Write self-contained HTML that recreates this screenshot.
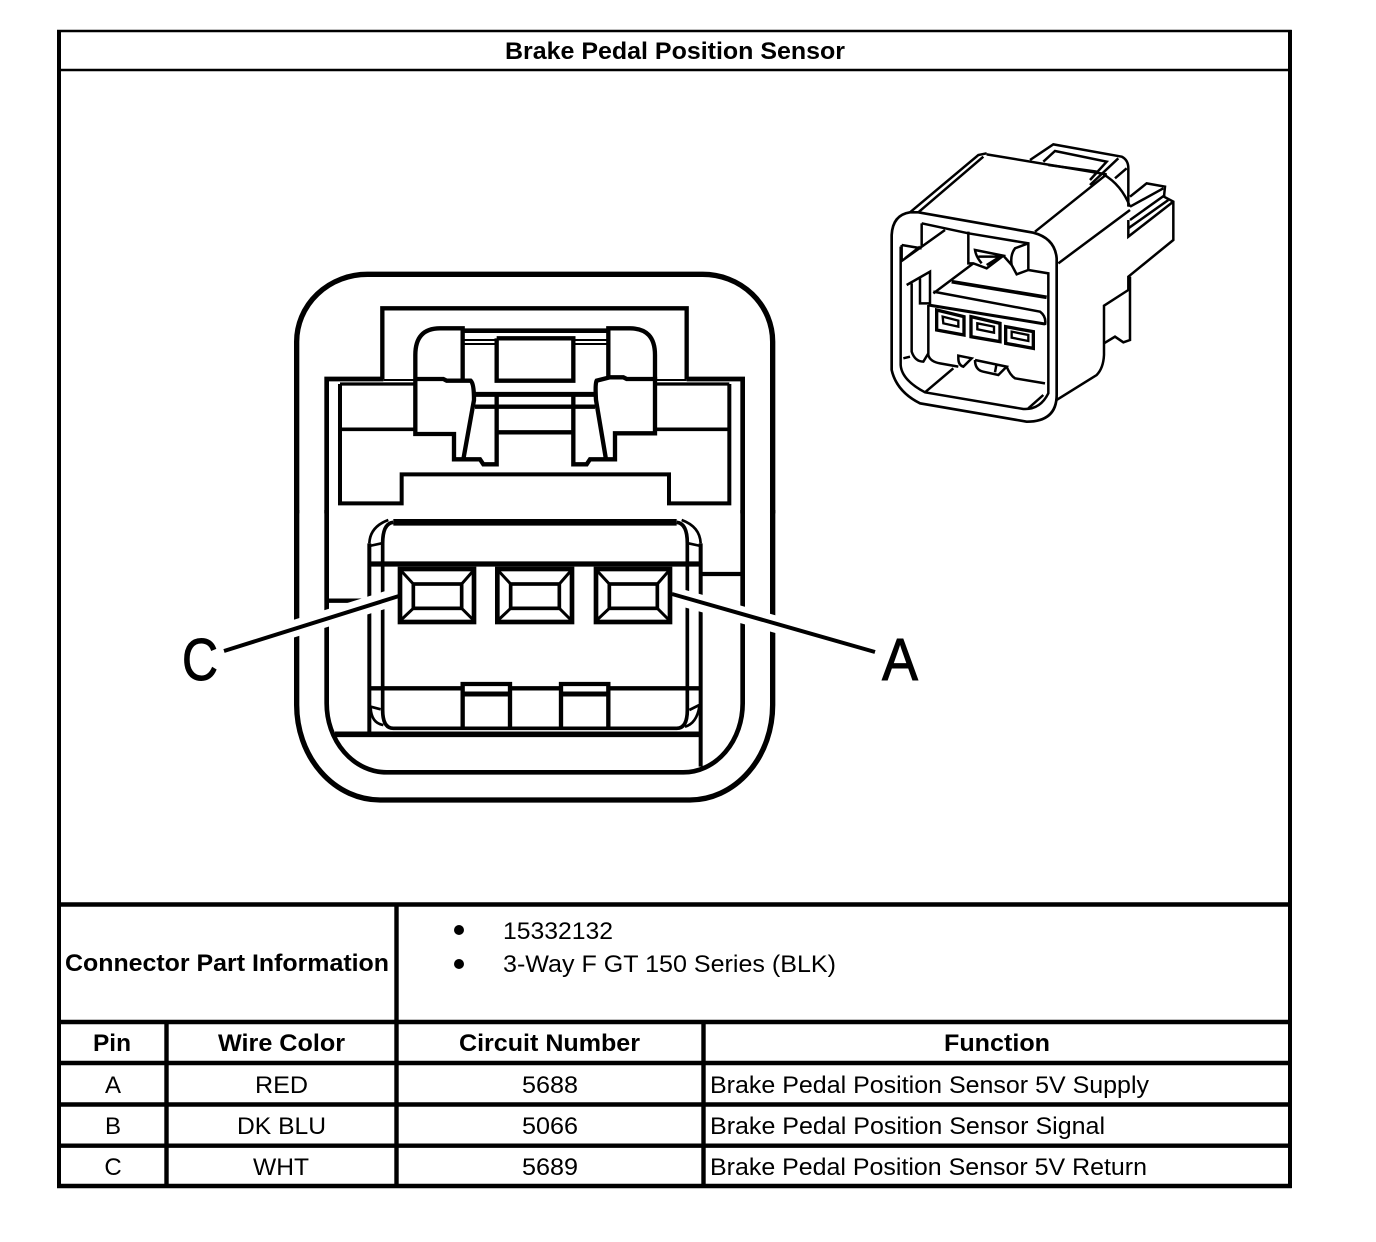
<!DOCTYPE html>
<html><head><meta charset="utf-8"><style>
html,body{margin:0;padding:0;background:#fff}
svg{display:block}
text{font-family:"Liberation Sans",Arial,sans-serif;fill:#000}
.b{font-weight:bold;font-size:24px}
.r{font-size:24px}
</style></head><body>
<svg width="1376" height="1242" viewBox="0 0 1376 1242" xmlns="http://www.w3.org/2000/svg">
<rect width="1376" height="1242" fill="#fff"/>
<g fill="none" stroke="#000" stroke-linecap="butt" stroke-linejoin="miter">
<!-- table -->
<path d="M57,31H1291.7" stroke-width="2.6"/>
<path d="M59,30V1188M1290,30V1188" stroke-width="4"/>
<path d="M57,70H1291" stroke-width="2.4"/>
<path d="M57,904.5H1291M57,1022H1291M57,1063H1291M57,1104.5H1291M57,1145.7H1291M57,1186H1291.7" stroke-width="4.4"/>
<path d="M396.5,904V1187M166.5,1022V1187M703.5,1022V1187" stroke-width="4.4"/>

<!-- top of connector -->
<g transform="translate(280,260) scale(0.33333)" stroke-width="13">
<path d="M50,760V245A212,202 0 0 1 262,43H1268A210,202 0 0 1 1478,245V760" stroke-width="16"/>
<path d="M140,760V357H310M1220,357H1388V760" stroke-width="14"/>
<path d="M180,372V730H365V643H1167V730H1348V372" stroke-width="12"/>
<path d="M180,372H406M1125,372H1348" stroke-width="10"/>
<path d="M307,357V145H1220V357"/>
<path d="M310,360H406M1125,360H1220" stroke-width="6"/>
<path d="M406,357V285Q406,205 480,205H548V357M985,352V205H1050Q1125,205 1125,285V357"/>
<path d="M548,212H985" stroke-width="14"/>
<path d="M550,240H650M880,240H985M550,252H650M880,252H985" stroke-width="6"/>
<path d="M650,235V362H880V235H650"/>
<path d="M406,357V522H522V598H600L610,613H650V405"/>
<path d="M406,357H490L500,362H572Q582,370 582,420L550,598"/>
<path d="M880,405V613H920L930,598H1005V520H1125V357H1040L1030,352H990L950,362Q945,370 948,420L978,598"/>
<path d="M585,403H945" stroke-width="15"/>
<path d="M585,440H945"/>
<path d="M650,517H880"/>
<path d="M180,508H406M1125,508H1348" stroke-width="11"/>
</g>

<!-- bottom of connector -->
<g transform="translate(280,510) scale(0.33333)" stroke-width="13">
<path d="M50,0V585A250,285 0 0 0 300,870H1230A248,285 0 0 0 1478,585V0" stroke-width="16"/>
<path d="M140,0V580A180,207 0 0 0 320,787H1210A178,207 0 0 0 1388,580V0" stroke-width="14"/>
<path d="M140,272H250M1265,192H1388"/>
<path d="M268,100V665M1262,100V770" stroke-width="12"/>
<path d="M340,37H1190" stroke-width="20"/>
<path d="M340,37Q308,40 308,100V600Q308,655 340,655H1190Q1222,655 1222,600V100Q1222,40 1190,37" stroke-width="11"/>
<path d="M268,100Q270,50 325,30M1262,100Q1260,50 1205,30" stroke-width="8"/>
<path d="M268,108L305,100M1225,100L1262,108" stroke-width="8"/>
<path d="M272,595Q275,640 310,645M272,590L302,598M1258,590Q1250,640 1215,650M1258,585L1228,600" stroke-width="8"/>
<path d="M268,162H1262" stroke-width="16"/>
<path d="M268,535H545M690,535H840M985,535H1262" stroke-width="13"/>
<path d="M165,673H1262" stroke-width="17"/>
<path d="M548,655V522H690V655M843,655V522H985V655" stroke-width="13"/>
<path d="M548,552H690M843,552H985" stroke-width="15"/>
</g>

<!-- leaders -->
<path d="M240,645.5L398,596M672,595L860,648" stroke="#fff" stroke-width="17"/>
<path d="M224,651L399,596M672,594L875,652" stroke-width="4"/>

<g transform="translate(280,510) scale(0.33333)">
<rect x="360" y="177" width="222" height="159" stroke-width="14" fill="#fff"/>
<rect x="400" y="222" width="145" height="73" stroke-width="11"/>
<path d="M363,182L400,222M580,182L545,222M363,330L400,295M580,330L545,295" stroke-width="9"/>
<rect x="652" y="177" width="224" height="159" stroke-width="14" fill="#fff"/>
<rect x="692" y="222" width="146" height="73" stroke-width="11"/>
<path d="M655,182L692,222M873,182L838,222M655,330L692,295M873,330L838,295" stroke-width="9"/>
<rect x="948" y="177" width="222" height="159" stroke-width="14" fill="#fff"/>
<rect x="988" y="222" width="144" height="73" stroke-width="11"/>
<path d="M951,182L988,222M1167,182L1132,222M951,330L988,295M1167,330L1132,295" stroke-width="9"/>
</g>

<!-- iso view -->
<g transform="translate(880,135) scale(0.33333)" stroke-width="7.5">
<path d="M35,300Q38,240 90,232L115,232L460,293Q525,310 530,370V780Q530,860 440,860L120,805Q50,770 35,705Z" stroke-width="8"/>
<path d="M62,335V690Q65,735 135,772L430,822Q480,825 505,775V415L445,405"/>
<path d="M125,265V335M65,330L125,340M65,330V378L195,285M75,370L120,335"/>
<path d="M125,265L265,295L445,325V405"/>
<path d="M265,290V385L280,385L320,400L370,362L285,345Q288,365 305,385M295,365L360,365L320,390"/>
<path d="M445,325L405,340Q390,360 395,390L410,418L445,405M370,362L395,390"/>
<path d="M280,385L160,475"/>
<path d="M215,440L500,487" stroke-width="11"/>
<path d="M160,470L480,530Q500,545 495,570"/>
<path d="M145,510L495,567" stroke-width="9"/>
<path d="M80,450L150,410V505H120V430M95,445V650Q105,680 130,680L145,655M145,510V660Q150,680 180,685L235,695"/>
<path d="M235,670Q235,690 250,695L275,670L235,662ZM285,675Q285,705 310,710L355,720L380,695L285,675M350,685L345,712M380,695Q390,720 405,730L495,745"/>
<path d="M70,670L90,665M135,772L220,700M445,820L490,780"/>
<path d="M90,232L295,60L320,55M115,232L310,65M320,58L680,118"/>
<path d="M450,75L520,28L725,65Q745,75 745,100V215"/>
<path d="M490,80L525,48L680,80L630,135M505,90L650,110" />
<path d="M465,290L680,118M670,118Q725,150 750,215M705,130L740,100M715,70L630,150"/>
<path d="M535,385L750,225"/>
<path d="M750,185L800,145L855,155L852,185L880,200V315L745,425V465L672,512V660Q670,700 650,720L530,795"/>
<path d="M672,625L705,605L730,622L750,615V425"/>
<path d="M750,215L850,160M750,255L855,180M745,255V305L880,200M745,280L865,195"/>
<path d="M170,525L252,545V600L170,585Z M273,545L360,565V620L273,605Z M377,575L460,590V640L377,625Z" stroke-width="10"/>
<path d="M188,545L235,557V575L190,565ZM292,565L342,575V593L292,583ZM395,590L445,600V618L395,608Z" stroke-width="7"/>
</g>
</g>

<circle cx="459" cy="930" r="5"/>
<circle cx="459" cy="964" r="5"/>

<text x="200" y="680" font-size="59" text-anchor="middle" textLength="36" lengthAdjust="spacingAndGlyphs" stroke="#000" stroke-width="1">C</text>
<text x="900" y="680" font-size="59" text-anchor="middle" textLength="36" lengthAdjust="spacingAndGlyphs" stroke="#000" stroke-width="1">A</text>

<text class="b" x="505" y="59" textLength="340" lengthAdjust="spacingAndGlyphs">Brake Pedal Position Sensor</text>
<text class="b" x="65" y="971" textLength="324" lengthAdjust="spacingAndGlyphs">Connector Part Information</text>
<text class="r" x="503" y="939" textLength="110" lengthAdjust="spacingAndGlyphs">15332132</text>
<text class="r" x="503" y="972" textLength="333" lengthAdjust="spacingAndGlyphs">3-Way F GT 150 Series (BLK)</text>

<text class="b" x="93" y="1051" textLength="38" lengthAdjust="spacingAndGlyphs">Pin</text>
<text class="b" x="218" y="1051" textLength="127" lengthAdjust="spacingAndGlyphs">Wire Color</text>
<text class="b" x="459" y="1051" textLength="181" lengthAdjust="spacingAndGlyphs">Circuit Number</text>
<text class="b" x="944" y="1051" textLength="106" lengthAdjust="spacingAndGlyphs">Function</text>

<text class="r" x="113" y="1093" text-anchor="middle">A</text>
<text class="r" x="113" y="1134" text-anchor="middle">B</text>
<text class="r" x="113" y="1175" text-anchor="middle">C</text>
<text class="r" x="255" y="1093" textLength="53" lengthAdjust="spacingAndGlyphs">RED</text>
<text class="r" x="237" y="1134" textLength="89" lengthAdjust="spacingAndGlyphs">DK BLU</text>
<text class="r" x="253" y="1175" textLength="56" lengthAdjust="spacingAndGlyphs">WHT</text>
<text class="r" x="522" y="1093" textLength="56" lengthAdjust="spacingAndGlyphs">5688</text>
<text class="r" x="522" y="1134" textLength="56" lengthAdjust="spacingAndGlyphs">5066</text>
<text class="r" x="522" y="1175" textLength="56" lengthAdjust="spacingAndGlyphs">5689</text>
<text class="r" x="710" y="1093" textLength="439" lengthAdjust="spacingAndGlyphs">Brake Pedal Position Sensor 5V Supply</text>
<text class="r" x="710" y="1134" textLength="395" lengthAdjust="spacingAndGlyphs">Brake Pedal Position Sensor Signal</text>
<text class="r" x="710" y="1175" textLength="437" lengthAdjust="spacingAndGlyphs">Brake Pedal Position Sensor 5V Return</text>
</svg>
</body></html>
